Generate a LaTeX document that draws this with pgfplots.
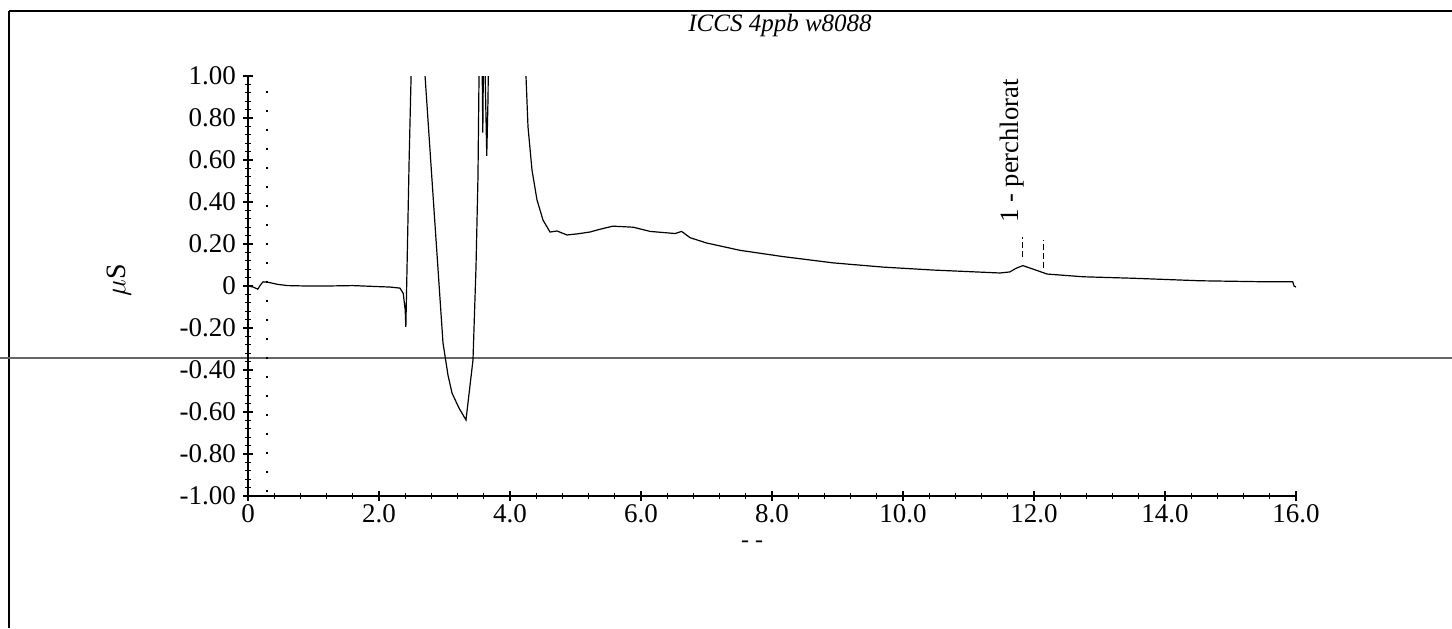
\documentclass[border=0pt]{standalone}
\usepackage{fontspec}
\setmainfont{Liberation Serif}
\usepackage{pgfplots}
\pgfplotsset{compat=1.18}
\begin{document}
\begin{tikzpicture}[x=1pt,y=1pt]
\useasboundingbox (0,0) rectangle (726,-314);
% page frame
\draw[line width=1.4pt] (4.5,-5.5) -- (4.5,-314);
\draw[line width=1pt] (4.5,-5.5) -- (726,-5.5);
\draw[gray!80!black, line width=0.7pt] (0,-179) -- (726,-179);
\node[font=\fontsize{12.5}{14}\selectfont\itshape] at (390,-12.5) {ICCS 4ppb w8088};
\node[font=\fontsize{14}{16}\selectfont, rotate=90] at (59.5,-140) {$\mu$S};
\node[font=\fontsize{12}{14}\selectfont] at (376,-272) {- -};
\begin{axis}[
  at={(124pt,-248pt)}, anchor=south west,
  scale only axis, width=524pt, height=210pt,
  xmin=0, xmax=16, ymin=-1, ymax=1,
  axis x line*=bottom, axis y line*=left,
  axis line style={-, line width=0.8pt},
  xtick={0,2,4,6,8,10,12,14,16},
  xticklabels={0,2.0,4.0,6.0,8.0,10.0,12.0,14.0,16.0},
  ytick={-1,-0.8,-0.6,-0.4,-0.2,0,0.2,0.4,0.6,0.8,1},
  yticklabels={-1.00,-0.80,-0.60,-0.40,-0.20,0,0.20,0.40,0.60,0.80,1.00},
  minor x tick num=4, minor y tick num=4,
  tick align=center,
  major tick length=5pt, minor tick length=3pt,
  tick style={black, line width=0.6pt},
  ticklabel style={font=\fontsize{13.5}{15}\selectfont},
  xticklabel style={yshift=2pt},
  yticklabel style={xshift=0pt},
  clip=true,
]
\addplot[black, line width=0.6pt] coordinates {
(0,0.0) (0.08,-0.005) (0.15,-0.015) (0.19,0.005) (0.23,0.02) (0.32,0.017) (0.45,0.008) (0.6,0.002)
(0.9,0.0) (1.2,0.0) (1.6,0.002) (2.0,-0.003) (2.17,-0.005) (2.32,-0.01) (2.37,-0.035) (2.40,-0.114)
(2.41,-0.195) (2.43,0.12) (2.46,0.6) (2.49,1.0) (2.52,1.8) (2.6,3) (2.69,1.1)
(2.702,1.005) (2.840,0.362) (2.977,-0.271) (3.053,-0.424) (3.115,-0.51) (3.221,-0.581) (3.328,-0.638)
(3.435,-0.352) (3.481,0.09) (3.511,0.519) (3.527,1.0) (3.545,1.6)
(3.57,1.2) (3.585,0.73) (3.60,1.3) (3.615,1.1) (3.645,0.62) (3.665,0.9) (3.68,1.5) (3.9,3) (4.2,1.3)
(4.244,1.0) (4.275,0.757) (4.336,0.552) (4.412,0.41) (4.504,0.314) (4.611,0.257) (4.718,0.262)
(4.870,0.243) (5.02,0.248) (5.22,0.257) (5.37,0.27) (5.57,0.285) (5.88,0.28) (6.14,0.26) (6.52,0.25)
(6.62,0.26) (6.75,0.23) (7.0,0.205) (7.51,0.17) (8.17,0.14) (8.94,0.11) (9.7,0.09) (10.46,0.076)
(11.48,0.062) (11.63,0.067) (11.73,0.085) (11.83,0.097) (11.99,0.08) (12.2,0.057) (12.75,0.044)
(13.51,0.037) (14.53,0.025) (15.56,0.02) (15.95,0.02) (15.97,0.0) (16.0,-0.005)
};
\draw[black, line width=0.8pt, dash pattern=on 1pt off 8.5pt] (axis cs:0.29,-0.98) -- (axis cs:0.29,1);
\draw[black, line width=0.5pt, dash pattern=on 3pt off 1.5pt] (axis cs:11.82,0.138) -- (axis cs:11.82,0.233);
\draw[black, line width=0.5pt, dash pattern=on 3pt off 1.5pt] (axis cs:12.14,0.086) -- (axis cs:12.14,0.219);
\node[rotate=90, anchor=base west, inner sep=0pt, font=\fontsize{13.3}{16}\selectfont] at (axis cs:11.76,0.30) {1 - perchlorat};
\end{axis}
\end{tikzpicture}
\end{document}
